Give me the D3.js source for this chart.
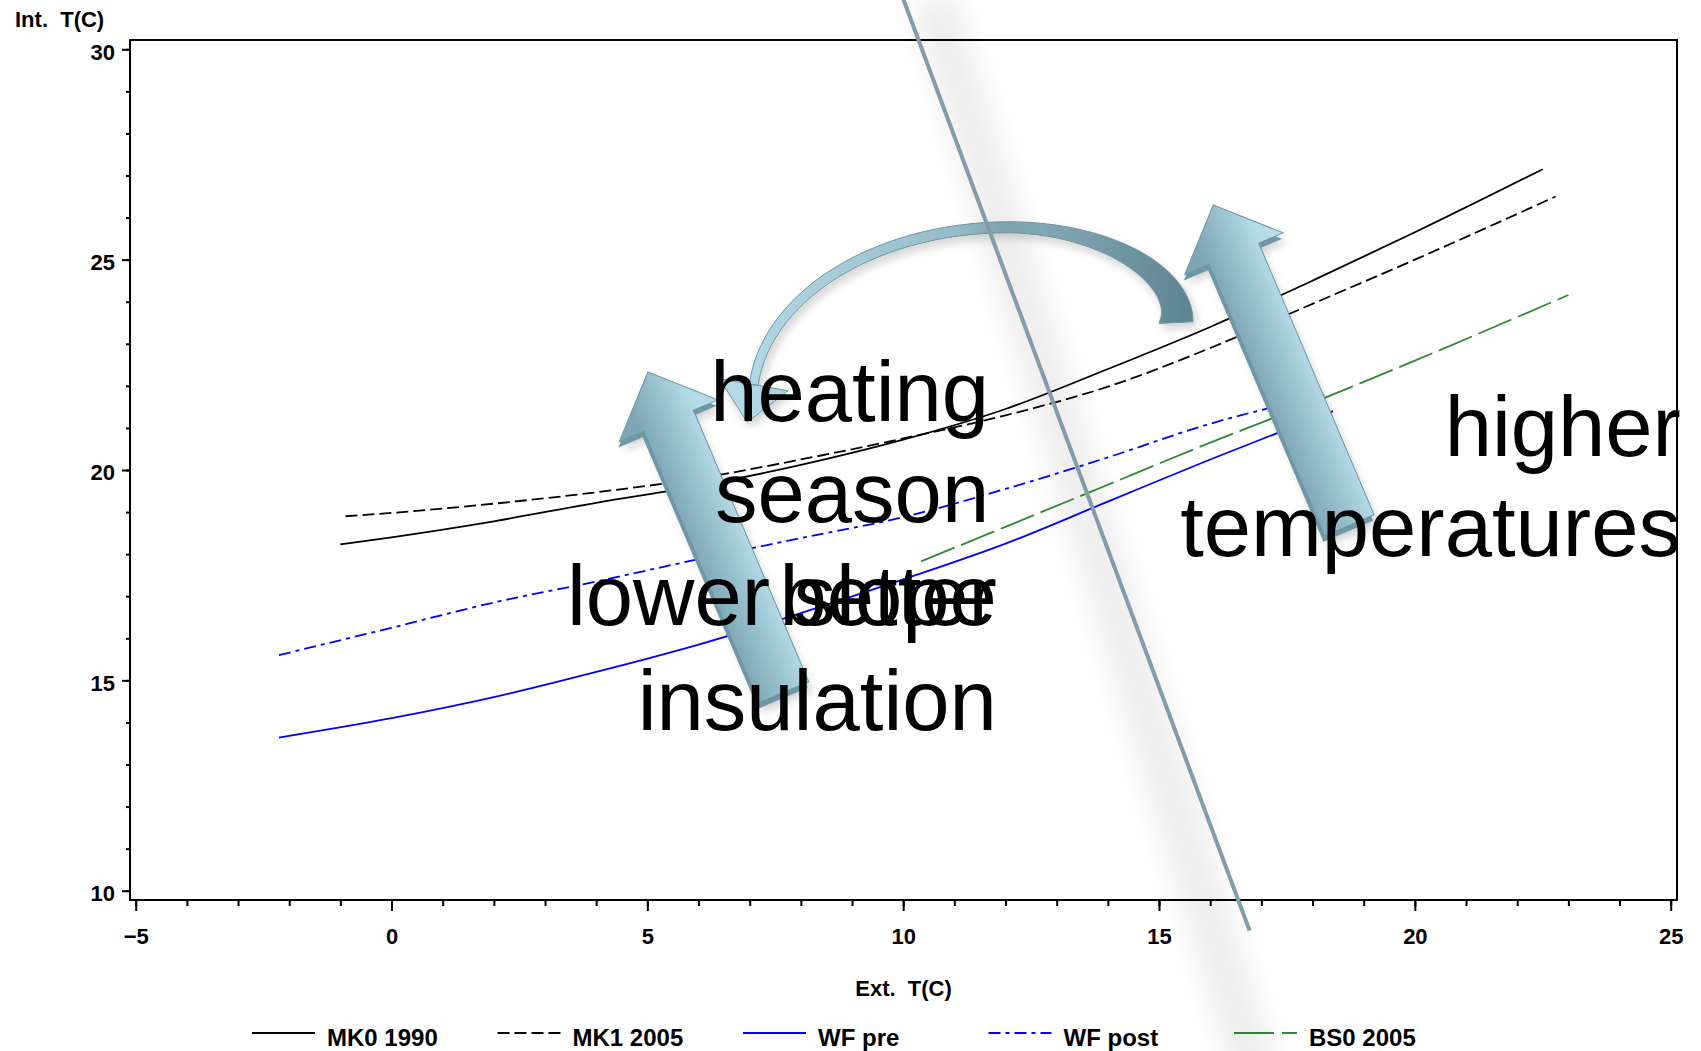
<!DOCTYPE html>
<html>
<head>
<meta charset="utf-8">
<script src="https://cdn.jsdelivr.net/npm/d3@7"></script>
<style>
  html, body { margin: 0; padding: 0; background: #fff; }
  svg { display: block; }
  text { font-family: "Liberation Sans", Arial, Helvetica, sans-serif; }
</style>
</head>
<body>
<div id="chart"></div>
<script>
// data
const mk0X = [-1, 0, 2, 4, 6, 8, 10, 12, 14, 16, 18, 20, 22.5];
const mk0Y = [18.23, 18.4, 18.78, 19.22, 19.62, 20.12, 20.72, 21.45, 22.4, 23.4, 24.5, 25.65, 27.15];

const mk1X = [-0.9, 0, 2, 4, 6, 8, 10, 12, 14, 16, 18, 20, 22.75];
const mk1Y = [18.9, 18.98, 19.2, 19.47, 19.8, 20.25, 20.75, 21.3, 21.98, 22.9, 23.95, 25.0, 26.5];

const wfPreX = [-2.2, 0, 2, 4, 6, 8, 10, 12, 14, 16, 18.4];
const wfPreY = [13.64, 14.1, 14.6, 15.2, 15.85, 16.6, 17.4, 18.25, 19.25, 20.25, 21.4];

const wfPostX = [-2.2, 0, 2, 4, 6, 8, 10, 12, 14, 16, 18.3];
const wfPostY = [15.6, 16.25, 16.85, 17.35, 17.88, 18.38, 18.88, 19.55, 20.3, 21.1, 21.8];

const bs0X = [10.35, 12, 14, 16, 18, 20, 23];
const bs0Y = [17.83, 18.65, 19.65, 20.65, 21.6, 22.6, 24.16];

const seriesNames = ["MK0 1990", "MK1 2005", "WF pre", "WF post", "BS0 2005"];

const xMajorTicks = [-5, 0, 5, 10, 15, 20, 25];
const yMajorTicks = [10, 15, 20, 25, 30];

// annotations, anchored in data units
const bigLine = [[10.0, 31.2], [16.77, 9.05]];
const arrowTips = [[5.01, 22.33], [16.06, 26.30]];
const arcTop = [12.07, 25.9];
const notes = [
  { text: "heating", x: 11.68, y: 21.16 },
  { text: "season", x: 11.68, y: 18.76 },
  { text: "lower slope", x: 11.83, y: 16.32 },
  { text: "better", x: 11.83, y: 16.32 },
  { text: "insulation", x: 11.83, y: 13.82 },
  { text: "higher", x: 25.2, y: 20.33 },
  { text: "temperatures", x: 25.2, y: 17.96 }
];

//size
const width = 1701, height = 1051;
const frame = { left: 130, top: 40, right: 1677, bottom: 900 };

//scale
const xScale = d3.scaleLinear().domain([-5, 25]).range([135.7, 1670.7]);
const yScale = d3.scaleLinear().domain([10, 30]).range([890.7, 49.3]);

const series = [
  { name: seriesNames[0], xs: mk0X, ys: mk0Y, color: "#000", dash: null },
  { name: seriesNames[1], xs: mk1X, ys: mk1Y, color: "#000", dash: "12,5" },
  { name: seriesNames[2], xs: wfPreX, ys: wfPreY, color: "#0000ff", dash: null },
  { name: seriesNames[3], xs: wfPostX, ys: wfPostY, color: "#0000ff", dash: "12,5,4,5" },
  { name: seriesNames[4], xs: bs0X, ys: bs0Y, color: "#2e8b2e", dash: "36,7" }
];
series.forEach((s) => {
  s.points = s.xs.map((x, i) => ({ x, y: s.ys[i] }));
});

//create element
const svg = d3.select("#chart").append("svg")
  .attr("width", width)
  .attr("height", height)
  .attr("viewBox", [0, 0, width, height]);

svg.append("rect").attr("width", width).attr("height", height).attr("fill", "#fff");

const defs = svg.append("defs");
defs.append("filter").attr("id", "soft")
  .attr("x", "-50%").attr("y", "-50%").attr("width", "200%").attr("height", "200%")
  .append("feGaussianBlur").attr("stdDeviation", 14);
const drop = defs.append("filter").attr("id", "drop")
  .attr("x", "-30%").attr("y", "-30%").attr("width", "160%").attr("height", "160%");
drop.append("feDropShadow").attr("dx", 3).attr("dy", 5).attr("stdDeviation", 5)
  .attr("flood-color", "#000").attr("flood-opacity", 0.18);

const arrowGrad = defs.append("linearGradient").attr("id", "arrowGrad")
  .attr("gradientUnits", "userSpaceOnUse")
  .attr("x1", -30).attr("y1", 0).attr("x2", 30).attr("y2", 0);
arrowGrad.append("stop").attr("offset", 0).attr("stop-color", "#7fa6b5");
arrowGrad.append("stop").attr("offset", 0.5).attr("stop-color", "#98c0cd");
arrowGrad.append("stop").attr("offset", 1).attr("stop-color", "#b5dce7");

const arcGrad = defs.append("linearGradient").attr("id", "arcGrad")
  .attr("gradientUnits", "userSpaceOnUse")
  .attr("x1", 740).attr("y1", 0).attr("x2", 1195).attr("y2", 0);
arcGrad.append("stop").attr("offset", 0).attr("stop-color", "#b3d9e5");
arcGrad.append("stop").attr("offset", 0.45).attr("stop-color", "#98bdca");
arcGrad.append("stop").attr("offset", 0.75).attr("stop-color", "#7b9fad");
arcGrad.append("stop").attr("offset", 1).attr("stop-color", "#5d8391");

//frame
svg.append("rect")
  .attr("x", frame.left).attr("y", frame.top)
  .attr("width", frame.right - frame.left)
  .attr("height", frame.bottom - frame.top)
  .attr("fill", "none").attr("stroke", "#000").attr("stroke-width", 2);

//x-axis
const fmt = (d) => (d < 0 ? "\u2212" + Math.abs(d) : String(d));
const xMinor = svg.append("g").attr("transform", `translate(0,${frame.bottom})`)
  .call(d3.axisBottom(xScale).tickValues(d3.range(-5, 26)).tickSize(6).tickFormat(""));
const xAxis = svg.append("g").attr("transform", `translate(0,${frame.bottom})`)
  .call(d3.axisBottom(xScale).tickValues(xMajorTicks).tickSize(11).tickPadding(17).tickFormat(fmt));

//y-axis
const yMinor = svg.append("g").attr("transform", `translate(${frame.left},0)`)
  .call(d3.axisLeft(yScale).tickValues(d3.range(10, 31)).tickSize(4).tickFormat(""));
const yAxis = svg.append("g").attr("transform", `translate(${frame.left},0)`)
  .call(d3.axisLeft(yScale).tickValues(yMajorTicks).tickSize(8).tickPadding(7));

[xMinor, xAxis, yMinor, yAxis].forEach((g) => {
  g.select(".domain").remove();
  g.selectAll(".tick line").attr("stroke", "#000").attr("stroke-width", 2);
  g.selectAll(".tick text")
    .attr("fill", "#000")
    .attr("font-size", 22)
    .attr("font-weight", "bold")
    .style("font-family", '"Liberation Sans", Arial, sans-serif');
});
yAxis.selectAll(".tick text").attr("dy", "0.45em");

//axis titles
svg.append("text")
  .attr("x", 15).attr("y", 27)
  .attr("font-size", 22).attr("font-weight", "bold")
  .style("white-space", "pre")
  .text("Int.  T(C)");
svg.append("text")
  .attr("x", (frame.left + frame.right) / 2).attr("y", 996)
  .attr("text-anchor", "middle")
  .attr("font-size", 22).attr("font-weight", "bold")
  .style("white-space", "pre")
  .text("Ext.  T(C)");

//mark
const line = d3.line()
  .x((d) => xScale(d.x))
  .y((d) => yScale(d.y))
  .curve(d3.curveMonotoneX);

svg.append("g").attr("class", "mark")
  .selectAll("path")
  .data(series)
  .join("path")
  .attr("d", (d) => line(d.points))
  .attr("fill", "none")
  .attr("stroke", (d) => d.color)
  .attr("stroke-width", 1.8)
  .attr("stroke-dasharray", (d) => d.dash);

//legend
const legend = svg.append("g").attr("class", "legend");
series.forEach((s, i) => {
  const x0 = 252 + i * 245.5;
  legend.append("line")
    .attr("x1", x0).attr("x2", x0 + 63)
    .attr("y1", 1033).attr("y2", 1033)
    .attr("stroke", s.color).attr("stroke-width", 2)
    .attr("stroke-dasharray", i === 4 ? "40,8" : s.dash);
  legend.append("text")
    .attr("x", x0 + 75).attr("y", 1046)
    .attr("font-size", 24).attr("font-weight", "bold")
    .text(s.name);
});

//annotations
const ann = svg.append("g").attr("class", "annotations");

// curved arrow: outer edge runs from the blunt right end over the top to the left
const [ax, ay] = [xScale(arcTop[0]), yScale(arcTop[1])];
const outer = [];
const nSeg = 60;
for (let i = 0; i <= nSeg; i++) {
  const u = i / nSeg;
  let px, py;
  if (u <= 0.5) {
    const t = (u / 0.5) * Math.PI / 2;
    px = ax + 184 * Math.cos(t);
    py = ay + 100 - 100 * Math.sin(t);
  } else {
    const t = Math.PI / 2 + ((u - 0.5) / 0.5) * (Math.PI * 0.47);
    px = ax + 261 * Math.cos(t);
    py = ay + 179 - 179 * Math.sin(t);
  }
  const th = u < 0.5 ? 11 + 23 * Math.pow(1 - 2 * u, 1.5) : 11 - 2 * (2 * u - 1);
  outer.push({ px, py, th });
}
const inner = outer.map((p, i) => {
  const a = outer[Math.max(0, i - 1)], b = outer[Math.min(outer.length - 1, i + 1)];
  let tx = b.px - a.px, ty = b.py - a.py;
  const len = Math.hypot(tx, ty);
  tx /= len; ty /= len;
  // inward normal (towards the centre of the bend)
  return { px: p.px + ty * p.th, py: p.py - tx * p.th, tx, ty };
});
const last = outer.length - 1;
const midEnd = {
  x: (outer[last].px + inner[last].px) / 2,
  y: (outer[last].py + inner[last].py) / 2
};
const tEnd = inner[last];
const nx = -tEnd.ty, ny = tEnd.tx;
const headHalf = 35, headLen = 38;
const arcPts = [];
outer.forEach((p) => arcPts.push([p.px, p.py]));
arcPts.push([midEnd.x - nx * headHalf, midEnd.y - ny * headHalf]);
arcPts.push([midEnd.x + tEnd.tx * headLen, midEnd.y + tEnd.ty * headLen]);
arcPts.push([midEnd.x + nx * headHalf, midEnd.y + ny * headHalf]);
inner.slice().reverse().forEach((p) => arcPts.push([p.px, p.py]));

ann.append("path")
  .attr("d", d3.line()(arcPts) + "Z")
  .attr("fill", "url(#arcGrad)")
  .attr("stroke", "#6f94a2")
  .attr("stroke-width", 1)
  .attr("filter", "url(#drop)");

// block arrows
const L = 348, hl = 53, hh = 53.5, sh = 27;
const arrowPath = `M0,0 L${hh},${hl} L${sh},${hl} L${sh},${L} L${-sh},${L} L${-sh},${hl} L${-hh},${hl} Z`;
arrowTips.forEach(([tx, ty]) => {
  const g = ann.append("g")
    .attr("transform", `translate(${xScale(tx)},${yScale(ty)})`);
  g.append("path")
    .attr("transform", "translate(-1,6) rotate(-23)")
    .attr("d", arrowPath)
    .attr("fill", "#6f97a6")
    .attr("filter", "url(#drop)");
  g.append("path")
    .attr("transform", "rotate(-23)")
    .attr("d", arrowPath)
    .attr("fill", "url(#arrowGrad)")
    .attr("stroke", "#6d95a4")
    .attr("stroke-width", 1);
});

// big diagonal line with soft shadow
const [l0, l1] = bigLine.map(([x, y]) => [xScale(x), yScale(y)]);
ann.append("line")
  .attr("x1", l0[0] + 30).attr("y1", l0[1])
  .attr("x2", l1[0] + 8).attr("y2", height + 30)
  .attr("stroke", "#000").attr("stroke-opacity", 0.07)
  .attr("stroke-width", 44)
  .attr("filter", "url(#soft)");
ann.append("line")
  .attr("x1", l0[0]).attr("y1", l0[1])
  .attr("x2", l1[0]).attr("y2", l1[1])
  .attr("stroke", "#7f9ea8")
  .attr("stroke-width", 4);

// big labels
ann.selectAll("text.note")
  .data(notes)
  .join("text")
  .attr("class", "note")
  .attr("x", (d) => xScale(d.x))
  .attr("y", (d) => yScale(d.y))
  .attr("text-anchor", "end")
  .attr("font-size", 85)
  .attr("fill", "#000")
  .text((d) => d.text);
</script>
</body>
</html>
